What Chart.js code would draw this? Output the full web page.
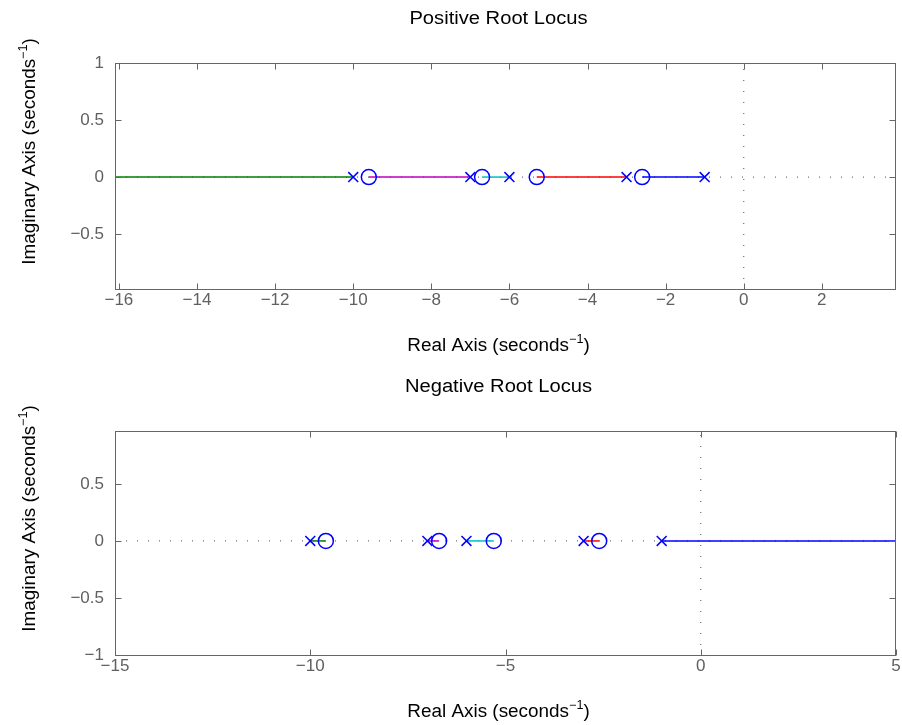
<!DOCTYPE html>
<html>
<head>
<meta charset="utf-8">
<script src="https://cdn.jsdelivr.net/npm/chart.js@4/dist/chart.umd.min.js"></script>
<style>
  body { margin: 0; background: #fff; }
  #wrap { position: relative; width: 902px; height: 725px; }
  canvas { position: absolute; left: 0; }
</style>
</head>
<body>
<div id="wrap">
  <canvas id="posCanvas" width="902" height="362" style="top:0px"></canvas>
  <canvas id="negCanvas" width="902" height="363" style="top:362px"></canvas>
</div>
<script>
// open loop poles / zeros
const poles = [-10, -7, -6, -3, -1];
const zeros = [-9.6, -6.7, -5.3, -2.6];

// positive root locus
const posXRange = [-16.1, 3.9];
const posYRange = [-0.99, 1];
const posXTicks = [-16, -14, -12, -10, -8, -6, -4, -2, 0, 2];
const posYTicks = [-0.5, 0, 0.5, 1];
const posBranchFrom = [-10, -7, -6, -3, -1];
const posBranchTo = [posXRange[0], -9.6, -6.7, -5.3, -2.6];

// negative root locus
const negXRange = [-15, 5];
const negYRange = [-1.01, 0.965];
const negXTicks = [-15, -10, -5, 0, 5];
const negYTicks = [-1, -0.5, 0, 0.5];
const negBranchFrom = [-10, -7, -6, -3, -1];
const negBranchTo = [-9.6, -6.7, -5.3, -2.6, negXRange[1]];

const branchColors = ['#008000', '#c000c0', '#00c0c0', '#ff0000', '#0000ff'];

const FONT = '"Liberation Sans", Arial, Helvetica, sans-serif';
const fmt = v => (v < 0 ? '\u2212' + Math.abs(v) : String(v));

// text with a "-1" exponent, centred on (x, y), stretched a bit like the original export
function drawSup(ctx, base, sup, tail, x, y, sx) {
  ctx.save();
  ctx.translate(x, y);
  ctx.scale(sx, 1);
  ctx.font = '18px ' + FONT;
  const w1 = ctx.measureText(base).width;
  const w3 = ctx.measureText(tail).width;
  ctx.font = '12px ' + FONT;
  const w2 = ctx.measureText(sup).width;
  let cx = -(w1 + w2 + w3) / 2;
  ctx.textAlign = 'left';
  ctx.textBaseline = 'alphabetic';
  ctx.font = '18px ' + FONT;
  ctx.fillText(base, cx, 0);
  cx += w1;
  ctx.font = '12px ' + FONT;
  ctx.fillText(sup, cx, -8);
  cx += w2;
  ctx.font = '18px ' + FONT;
  ctx.fillText(tail, cx, 0);
  ctx.restore();
}

const framePlugin = {
  id: 'frame',
  afterDraw(chart, args, o) {
    const { ctx, chartArea: a, scales: { x, y } } = chart;
    ctx.save();
    ctx.strokeStyle = '#666666';
    ctx.lineWidth = 1;
    const L = Math.round(a.left) + 0.5, R = Math.round(a.right) - 0.5;
    const T = Math.round(a.top) + 0.5, B = Math.round(a.bottom) - 0.5;
    ctx.strokeRect(L, T, R - L, B - T);
    ctx.beginPath();
    o.xTicks.forEach(v => {
      const px = Math.round(x.getPixelForValue(v)) + 0.5;
      ctx.moveTo(px, B); ctx.lineTo(px, B - 6);
      ctx.moveTo(px, T); ctx.lineTo(px, T + 6);
    });
    o.yTicks.forEach(v => {
      const py = Math.round(y.getPixelForValue(v)) + 0.5;
      ctx.moveTo(L, py); ctx.lineTo(L + 6, py);
      ctx.moveTo(R, py); ctx.lineTo(R - 6, py);
    });
    ctx.stroke();

    ctx.fillStyle = '#000';
    const midX = (a.left + a.right) / 2 - 7;
    ctx.save();
    ctx.translate(midX, a.top - 39);
    ctx.scale(1.12, 1);
    ctx.font = '18px ' + FONT;
    ctx.textAlign = 'center';
    ctx.textBaseline = 'alphabetic';
    ctx.fillText(o.title, 0, 0);
    ctx.restore();
    drawSup(ctx, 'Real Axis (seconds', '\u22121', ')', midX, a.bottom + 61, 1.05);
    ctx.translate(35, (a.top + a.bottom) / 2 - 25);
    ctx.rotate(-Math.PI / 2);
    drawSup(ctx, 'Imaginary Axis (seconds', '\u22121', ')', 0, 0, 1.05);
    ctx.restore();
  }
};

function makeChart(id, title, xRange, yRange, xTicks, yTicks, from, to, areaTop, areaBottom) {
  const canvas = document.getElementById(id);
  const H = canvas.height;
  const pt = v => ({ x: v, y: 0 });
  const datasets = [
    {
      data: poles.map(pt), showLine: false,
      pointStyle: 'crossRot', pointRadius: 7, borderWidth: 1.5,
      borderColor: '#0000ff', backgroundColor: '#0000ff'
    },
    {
      data: zeros.map(pt), showLine: false,
      pointStyle: 'circle', pointRadius: 7.5, borderWidth: 1.5,
      borderColor: '#0000ff', backgroundColor: 'rgba(0,0,0,0)'
    }
  ];
  from.forEach((f, i) => {
    datasets.push({
      data: [pt(f), pt(to[i])], showLine: true, pointRadius: 0,
      borderColor: branchColors[i], borderWidth: 1.5
    });
  });
  // dotted axes through the origin
  datasets.push({
    data: [pt(xRange[0]), pt(xRange[1])], showLine: true, pointRadius: 0,
    borderColor: '#707070', borderWidth: 1.2, borderDash: [1, 10]
  });
  datasets.push({
    data: [{ x: 0, y: yRange[0] }, { x: 0, y: yRange[1] }], showLine: true, pointRadius: 0,
    borderColor: '#707070', borderWidth: 1.2, borderDash: [1, 10]
  });

  return new Chart(canvas, {
    type: 'scatter',
    data: { datasets },
    options: {
      responsive: false,
      animation: false,
      events: [],
      layout: { autoPadding: false, padding: { top: areaTop, right: 6, bottom: 0, left: 0 } },
      plugins: {
        legend: { display: false },
        tooltip: { enabled: false },
        frame: { title, xTicks, yTicks }
      },
      scales: {
        x: {
          type: 'linear', min: xRange[0], max: xRange[1],
          grid: { display: false, drawTicks: false },
          border: { display: false },
          ticks: {
            autoSkip: false, maxRotation: 0, padding: 0,
            color: '#606060', font: { family: FONT, size: 17 },
            callback: fmt
          },
          afterBuildTicks: s => { s.ticks = xTicks.map(v => ({ value: v })); },
          afterFit: s => { s.height = H - areaBottom; s.paddingLeft = 0; s.paddingRight = 0; }
        },
        y: {
          type: 'linear', min: yRange[0], max: yRange[1],
          grid: { display: false, drawTicks: false },
          border: { display: false },
          ticks: {
            autoSkip: false, padding: 11,
            color: '#606060', font: { family: FONT, size: 17 },
            callback: fmt
          },
          afterBuildTicks: s => { s.ticks = yTicks.map(v => ({ value: v })); },
          afterFit: s => { s.width = 115; s.paddingTop = 0; s.paddingBottom = 0; }
        }
      }
    },
    plugins: [framePlugin]
  });
}

makeChart('posCanvas', 'Positive Root Locus', posXRange, posYRange, posXTicks, posYTicks,
  posBranchFrom, posBranchTo, 63, 290);
makeChart('negCanvas', 'Negative Root Locus', negXRange, negYRange, negXTicks, negYTicks,
  negBranchFrom, negBranchTo, 69, 294);
</script>
</body>
</html>
